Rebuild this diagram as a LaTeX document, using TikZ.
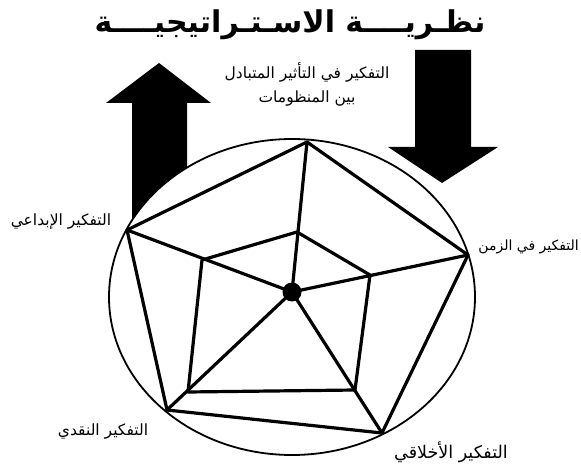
\documentclass[tikz,border=0pt]{standalone}
\usepackage{fontspec}
\newfontfamily\arabicfont[Script=Arabic]{DejaVu Sans}
\TeXXeTstate=1
\usepackage{tikz}

\begin{document}
\begin{tikzpicture}[x=1pt, y=-1pt,
    edge/.style={line width=3.2pt, line join=round, line cap=round},
    idea/.style={font=\arabicfont\fontsize{15.5}{24}\selectfont, inner sep=0pt, align=center},
    blockarrow/.style={fill=black}]
    \useasboundingbox (0,0) rectangle (581,473);

    % Title
    \node[font=\arabicfont\bfseries\fontsize{30}{34}\selectfont, inner sep=0pt] (title) at (290,25) {\beginR نظـريــــة الاسـتـراتيجيــــة\endR};

    % Arrows
    \fill[blockarrow] (159,63) -- (211,103) -- (187,103) -- (187,250) -- (132,250) -- (132,103) -- (106,103) -- cycle;
    \fill[blockarrow] (415,50) -- (471,50) -- (471,147) -- (498,147) -- (442,183) -- (388,147) -- (415,147) -- cycle;

    % Circle
    \draw[line width=1.8pt, fill=white] (292,297) ellipse [x radius=183, y radius=158];

    % Vertices
    \coordinate (o1) at (307,142);
    \coordinate (o2) at (468,255);
    \coordinate (o3) at (382,433);
    \coordinate (o4) at (167,410);
    \coordinate (o5) at (127,230);
    \coordinate (i1) at (297,232);
    \coordinate (i2) at (370,275);
    \coordinate (i3) at (355,390);
    \coordinate (i4) at (188,392);
    \coordinate (i5) at (202,260);
    \coordinate (c) at (292,292);

    % Pentagons
    \draw[edge] (o1) -- (o2) -- (o3) -- (o4) -- (o5) -- cycle;
    \draw[edge] (i1) -- (i2) -- (i3) -- (i4) -- (i5) -- cycle;
    \foreach \v in {o1,o2,o3,o4,o5}
        \draw[edge] (c) -- (\v);
    \fill (c) circle (9.5);

    % Labels
    \node[idea] (mutual) at (307,84) {\beginR التفكير في التأثير المتبادل\endR\\\beginR بين المنظومات\endR};
    \node[idea] (creative) at (61,222) {\beginR التفكير الإبداعي\endR};
    \node[idea, anchor=east, font=\arabicfont\fontsize{14}{20}\selectfont] (time) at (579,247) {\beginR التفكير في الزمن\endR};
    \node[idea] (critical) at (103,432) {\beginR التفكير النقدي\endR};
    \node[idea, font=\arabicfont\fontsize{17.5}{20}\selectfont] (ethical) at (451,452) {\beginR التفكير الأخلاقي\endR};
\end{tikzpicture}
\end{document}
